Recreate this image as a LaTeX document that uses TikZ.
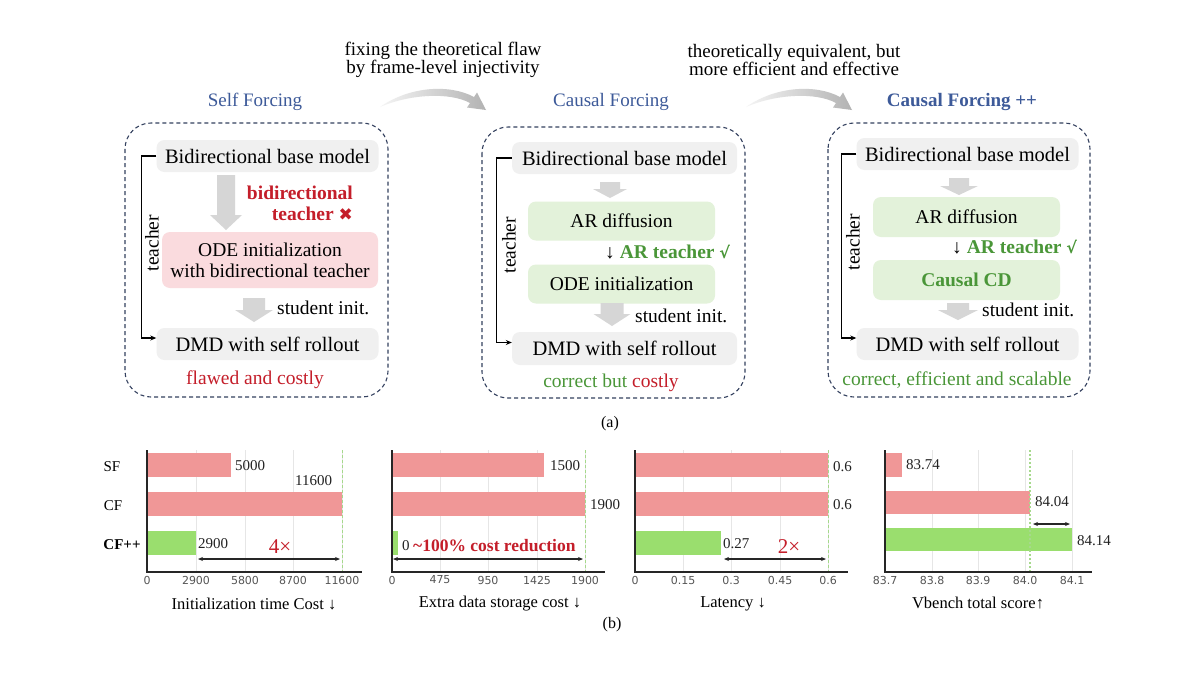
\documentclass[tikz,border=0pt]{standalone}
\usepackage{fontspec}
\setmainfont{Liberation Serif}
\newfontfamily\symf{DejaVu Sans}
\newfontfamily\tickf{DejaVu Sans}
\usetikzlibrary{arrows.meta}
\definecolor{titleblue}{HTML}{3D5A99}
\definecolor{redtxt}{HTML}{C41E2A}
\definecolor{greentxt}{HTML}{4A9638}
\definecolor{boxgray}{HTML}{F0F0F0}
\definecolor{boxpink}{HTML}{FADBDE}
\definecolor{boxgreen}{HTML}{E3F2DA}
\definecolor{dashblue}{HTML}{34415F}
\definecolor{arrgray}{HTML}{D6D6D6}
\definecolor{barred}{HTML}{F09797}
\definecolor{bargreen}{HTML}{9ADE6E}
\definecolor{gridgray}{HTML}{E6E6E6}
\definecolor{dashgreen}{HTML}{A6D98C}
\definecolor{ticktxt}{HTML}{555555}
\definecolor{valtxt}{HTML}{222222}
\newcommand{\blkarrow}[6]{%
  \fill[arrgray] ({#1-#4/2},#2) -- ({#1+#4/2},#2) -- ({#1+#4/2},{#3-#6}) -- ({#1+#5/2},{#3-#6}) -- (#1,#3) -- ({#1-#5/2},{#3-#6}) -- ({#1-#4/2},{#3-#6}) -- cycle;}
\begin{document}
\begin{tikzpicture}[x=1pt,y=-1pt,
  ptxt/.style={font=\fontsize{19.5}{21}\selectfont, inner sep=0pt},
  ttl/.style={font=\fontsize{19}{20}\selectfont, inner sep=0pt, text=titleblue},
  box/.style={ptxt, rounded corners=8pt, minimum height=32pt, minimum width=222pt},
  gbox/.style={box, fill=boxgray, font=\fontsize{20.5}{21}\selectfont},
  pbox/.style={box, fill=boxpink, align=center},
  grbox/.style={box, fill=boxgreen, minimum width=187pt, minimum height=39pt},
  panel/.style={draw=dashblue, line width=1.1pt, dash pattern=on 4pt off 3pt, rounded corners=26pt},
  brk/.style={draw=black, line width=1.2pt, -{Stealth[length=6pt,width=5pt]}},
  val/.style={font=\fontsize{15}{16}\selectfont, inner sep=0pt, text=valtxt, anchor=west},
  tick/.style={font=\tickf\fontsize{11}{12}\selectfont, inner sep=0pt, text=ticktxt},
  axlab/.style={font=\fontsize{16.5}{17}\selectfont, inner sep=0pt},
  ylab/.style={font=\fontsize{15}{16}\selectfont, inner sep=0pt},
  grid/.style={draw=gridgray, line width=1pt},
  axis/.style={draw=black!85, line width=1.3pt},
  refl/.style={draw=dashgreen, line width=1pt, dash pattern=on 3pt off 2pt},
  dbl/.style={draw=black!85, line width=1.1pt, {Stealth[length=5pt,width=4pt]}-{Stealth[length=5pt,width=4pt]}}
]
\useasboundingbox (0,0) rectangle (1200,675);
\fill[white] (0,0) rectangle (1200,675);

% ---------- top transitions ----------
\node[font=\fontsize{19}{18}\selectfont, inner sep=0pt, align=center] (tr1) at (443,59.5) {fixing the theoretical flaw\\by frame-level injectivity};
\node[font=\fontsize{19}{18}\selectfont, inner sep=0pt, align=center] (tr2) at (794,59.5) {theoretically equivalent, but\\more efficient and effective};
\foreach \dx in {0,366} {
  \shade[shift={(\dx,0)}, left color=gray!8, right color=gray!60]
    (380,107) .. controls (410,86) and (450,84) .. (474,97) -- (477,92.5) -- (486,110)
    -- (467,107.5) -- (470,103) .. controls (450,92) and (410,94) .. (380,107) -- cycle;
}

% ---------- titles ----------
\node[ttl] (t1) at (255,102) {Self Forcing};
\node[ttl] (t2) at (611,102) {Causal Forcing};
\node[ttl, font=\fontsize{19}{20}\selectfont\bfseries] (t3) at (962,102) {Causal Forcing ++};

% ---------- panel 1 ----------
\draw[panel] (125,123) rectangle (388,397);
\node[gbox] (a1) at (267.5,156) {Bidirectional base model};
\blkarrow{226}{175}{230}{18}{32}{15}
\node[ptxt, font=\fontsize{19.5}{21}\selectfont\bfseries, text=redtxt, align=right, anchor=east] (bt1) at (353,203) {bidirectional\\teacher {\symf\fontsize{17}{17}\selectfont ✖}};
\node[pbox, minimum width=216pt, minimum height=56pt] (a2) at (270,260) {ODE initialization\\with bidirectional teacher};
\blkarrow{254}{298}{322}{22}{38}{12}
\node[ptxt, anchor=west] (si1) at (277,308) {student init.};
\node[gbox] (a3) at (267.5,344) {DMD with self rollout};
\node[ptxt, text=redtxt] (c1) at (255,380) {flawed and costly};
\draw[brk] (a1.west) -- ++(-15,0) |- ([yshift=6pt]a3.west);
\node[ptxt, rotate=90] (tc1) at (152,243) {teacher};

% ---------- panel 2 ----------
\draw[panel] (482,127) rectangle (745,398);
\node[gbox, minimum width=225pt] (b1) at (624.5,158) {Bidirectional base model};
\blkarrow{610}{182}{198}{20}{34}{9}
\node[grbox] (b2) at (621.5,221) {AR diffusion};
\node[ptxt, anchor=west] (at2) at (605,252) {↓ \textcolor{greentxt}{\bfseries AR teacher {\symf\fontsize{16}{16}\selectfont √}}};
\node[grbox] (b3) at (621.5,284) {ODE initialization};
\blkarrow{612}{303}{326}{23}{37}{12}
\node[ptxt, anchor=west] (si2) at (635,316) {student init.};
\node[gbox, minimum width=225pt, minimum height=33pt] (b4) at (624.5,348.5) {DMD with self rollout};
\node[ptxt] (c2) at (611,383) {\textcolor{greentxt}{correct but} \textcolor{redtxt}{costly}};
\draw[brk] (b1.west) -- ++(-15,0) |- ([yshift=6pt]b4.west);
\node[ptxt, rotate=90] (tc2) at (509,245) {teacher};

% ---------- panel 3 ----------
\draw[panel] (828,123) rectangle (1090,397);
\node[gbox] (d1) at (967.5,154) {Bidirectional base model};
\blkarrow{959}{178}{195}{20}{38}{9}
\node[grbox, minimum height=40pt] (d2) at (966.5,217) {AR diffusion};
\node[ptxt, anchor=west] (at3) at (952,247) {↓ \textcolor{greentxt}{\bfseries AR teacher {\symf\fontsize{16}{16}\selectfont √}}};
\node[grbox, minimum height=40pt, text=greentxt, font=\fontsize{19.5}{21}\selectfont\bfseries] (d3) at (966.5,280) {Causal CD};
\blkarrow{958}{303}{320}{22}{40}{10}
\node[ptxt, anchor=west] (si3) at (982,310) {student init.};
\node[gbox] (d4) at (967.5,344) {DMD with self rollout};
\node[ptxt, text=greentxt] (c3) at (957,380) {correct, efficient and scalable};
\draw[brk] (d1.west) -- ++(-15,0) |- ([yshift=6pt]d4.west);
\node[ptxt, rotate=90] (tc3) at (853,242) {teacher};

\node[font=\fontsize{16}{17}\selectfont, inner sep=0pt] (cap-a) at (610,424) {(a)};

% ---------- chart 1 ----------
\foreach \x/\l [count=\i] in {147/0,196/2900,245/5800,293/8700,342/11600} {
  \draw[grid] (\x,450) -- (\x,572);
  \node[tick] (ka\i) at (\x,580) {\l};
}
\fill[barred] (147,453) rectangle (231,477);
\fill[barred] (147,492) rectangle (342,516);
\fill[bargreen] (147,531) rectangle (196,555);
\draw[refl] (342,450) -- (342,572);
\draw[axis] (147,450) -- (147,572) -- (362,572);
\node[ylab] (ya1) at (112,467) {SF};
\node[ylab] (ya2) at (113,506) {CF};
\node[ylab, font=\fontsize{15}{16}\selectfont\bfseries] (ya3) at (122,545) {CF++};
\node[val] (va1) at (235,466) {5000};
\node[val] (va2) at (295,481) {11600};
\node[val] (va3) at (198,544) {2900};
\node[font=\fontsize{21}{22}\selectfont, inner sep=0pt, text=redtxt] (fa) at (280,547) {4×};
\coordinate (da1) at (198,559);
\coordinate (da2) at (340,559);
\draw[dbl] (da1) -- (da2);
\node[axlab] (la) at (254,604) {Initialization time Cost ↓};

% ---------- chart 2 ----------
\foreach \x/\l [count=\i] in {392/0,440/475,488/950,537/1425,585/1900} {
  \draw[grid] (\x,450) -- (\x,572);
  \node[tick] (kb\i) at (\x,580) {\l};
}
\fill[barred] (392,453) rectangle (544,477);
\fill[barred] (392,492) rectangle (585,516);
\fill[bargreen] (392,531) rectangle (398,555);
\draw[refl] (585,450) -- (585,572);
\draw[axis] (392,450) -- (392,572) -- (605,572);
\node[val] (vb1) at (550,466) {1500};
\node[val] (vb2) at (590,505) {1900};
\node[val] (vb3) at (402,546) {0};
\node[font=\fontsize{17.5}{18}\selectfont\bfseries, inner sep=0pt, text=redtxt, anchor=west] (fb) at (413,546) {\textasciitilde100\% cost reduction};
\coordinate (db1) at (393,559);
\coordinate (db2) at (583,559);
\draw[dbl] (db1) -- (db2);
\node[axlab] (lb) at (500,604) {Extra data storage cost ↓};
\node[font=\fontsize{16}{17}\selectfont, inner sep=0pt] (cap-b) at (612,625) {(b)};

% ---------- chart 3 ----------
\foreach \x/\l [count=\i] in {635/0,683/0.15,731/0.3,780/0.45,828/0.6} {
  \draw[grid] (\x,450) -- (\x,572);
  \node[tick] (kc\i) at (\x,580) {\l};
}
\fill[barred] (635,453) rectangle (828,477);
\fill[barred] (635,492) rectangle (828,516);
\fill[bargreen] (635,531) rectangle (721,555);
\draw[refl] (828,450) -- (828,572);
\draw[axis] (635,450) -- (635,572) -- (848,572);
\node[val] (vc1) at (833,467) {0.6};
\node[val] (vc2) at (833,505) {0.6};
\node[val] (vc3) at (723,544) {0.27};
\node[font=\fontsize{21}{22}\selectfont, inner sep=0pt, text=redtxt] (fc) at (789,547) {2×};
\coordinate (dc1) at (724,559);
\coordinate (dc2) at (826,559);
\draw[dbl] (dc1) -- (dc2);
\node[axlab] (lc) at (733,604) {Latency ↓};

% ---------- chart 4 ----------
\foreach \x/\l [count=\i] in {885/83.7,932/83.8,978/83.9,1025/84.0,1072/84.1} {
  \draw[grid] (\x,450) -- (\x,572);
  \node[tick] (kd\i) at (\x,580) {\l};
}
\fill[barred] (885,453) rectangle (902,477);
\fill[barred] (885,491) rectangle (1030,514);
\fill[bargreen] (885,528) rectangle (1072,551);
\draw[draw=dashgreen, line width=1.3pt, dash pattern=on 2pt off 2pt] (1030,450) -- (1030,572);
\draw[axis] (885,450) -- (885,572) -- (1092,572);
\node[val] (vd1) at (906,465) {83.74};
\node[val] (vd2) at (1035,502) {84.04};
\node[val] (vd3) at (1077,541) {84.14};
\coordinate (dd1) at (1033,524);
\coordinate (dd2) at (1070,524);
\draw[dbl] (dd1) -- (dd2);
\node[axlab] (ld) at (978,603) {Vbench total score↑};
\end{tikzpicture}
\end{document}
